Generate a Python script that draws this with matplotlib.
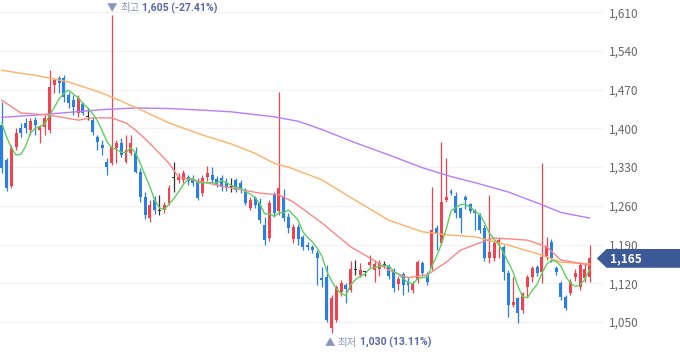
import numpy as np
import pandas as pd
import matplotlib
matplotlib.use("Agg")
import matplotlib.pyplot as plt
import matplotlib.transforms as mtransforms
from matplotlib.patches import Polygon
from matplotlib.offsetbox import TextArea, HPacker, AnnotationBbox

plt.rcParams['font.family'] = ['Noto Sans CJK KR', 'DejaVu Sans']

# daily candles (oldest first)
opens = [1406, 1343, 1296, 1366, 1400, 1409, 1397, 1415, 1398, 1402,
         1398, 1478, 1491, 1492, 1460, 1451, 1427, 1445, 1420, 1415,
         1384, 1370, 1339, 1337, 1364, 1373, 1339, 1355, 1355, 1321,
         1276, 1238, 1270, 1250, 1252, 1265, 1310, 1307, 1307, 1312,
         1310, 1303, 1283, 1312, 1316, 1309, 1310, 1301, 1294, 1307,
         1301, 1285, 1256, 1274, 1267, 1225, 1202, 1280, 1250, 1276,
         1240, 1200, 1222, 1204, 1190, 1186, 1175, 1130, 1131, 1040,
         1054, 1104, 1117, 1108, 1144, 1135, 1140, 1153, 1144, 1146,
         1153, 1151, 1144, 1119, 1137, 1124, 1108, 1126, 1157, 1135,
         1148, 1220, 1193, 1270, 1287, 1278, 1256, 1276, 1263, 1252,
         1243, 1220, 1166, 1166, 1193, 1186, 1139, 1081, 1094, 1072,
         1113, 1131, 1149, 1140, 1168, 1195, 1148, 1121, 1096, 1103,
         1131, 1113, 1130, 1131]
closes = [1328, 1292, 1364, 1391, 1391, 1400, 1413, 1406, 1404, 1418,
          1475, 1487, 1482, 1456, 1446, 1438, 1455, 1428, 1420, 1393,
          1375, 1364, 1330, 1366, 1373, 1352, 1361, 1373, 1321, 1276,
          1243, 1261, 1252, 1250, 1261, 1292, 1310, 1312, 1319, 1305,
          1301, 1274, 1310, 1319, 1307, 1298, 1294, 1292, 1294, 1289,
          1289, 1265, 1270, 1261, 1234, 1198, 1265, 1247, 1292, 1238,
          1220, 1222, 1200, 1186, 1186, 1180, 1166, 1126, 1054, 1094,
          1113, 1120, 1110, 1146, 1144, 1144, 1140, 1158, 1155, 1157,
          1153, 1133, 1112, 1128, 1117, 1117, 1120, 1158, 1139, 1122,
          1216, 1211, 1267, 1276, 1283, 1247, 1238, 1270, 1250, 1247,
          1216, 1166, 1177, 1193, 1198, 1140, 1081, 1087, 1067, 1103,
          1131, 1148, 1139, 1168, 1186, 1166, 1140, 1095, 1076, 1122,
          1139, 1153, 1146, 1165]
highs = [1448, 1346, 1370, 1400, 1409, 1418, 1418, 1420, 1406, 1424,
         1505, 1491, 1494, 1496, 1466, 1460, 1460, 1448, 1437, 1420,
         1388, 1379, 1346, 1605, 1379, 1382, 1388, 1388, 1366, 1328,
         1285, 1270, 1278, 1280, 1267, 1298, 1339, 1319, 1325, 1316,
         1316, 1310, 1316, 1332, 1330, 1314, 1316, 1310, 1310, 1310,
         1307, 1292, 1276, 1278, 1274, 1240, 1270, 1285, 1466, 1290,
         1247, 1227, 1227, 1207, 1195, 1190, 1180, 1149, 1153, 1099,
         1117, 1126, 1121, 1160, 1162, 1157, 1142, 1171, 1162, 1162,
         1160, 1155, 1148, 1133, 1140, 1131, 1124, 1162, 1160, 1140,
         1294, 1225, 1375, 1346, 1290, 1285, 1258, 1280, 1265, 1254,
         1247, 1225, 1280, 1198, 1202, 1189, 1144, 1131, 1096, 1105,
         1135, 1151, 1153, 1337, 1204, 1200, 1151, 1124, 1099, 1128,
         1145, 1158, 1157, 1189]
lows = [1320, 1287, 1292, 1361, 1384, 1391, 1388, 1388, 1374, 1388,
        1392, 1464, 1464, 1447, 1437, 1425, 1420, 1424, 1415, 1388,
        1361, 1352, 1316, 1334, 1337, 1348, 1337, 1352, 1319, 1267,
        1236, 1231, 1245, 1243, 1247, 1261, 1285, 1301, 1301, 1298,
        1296, 1270, 1278, 1305, 1301, 1294, 1287, 1287, 1285, 1285,
        1283, 1261, 1252, 1256, 1229, 1189, 1196, 1240, 1243, 1232,
        1211, 1193, 1190, 1180, 1180, 1175, 1117, 1113, 1050, 1030,
        1050, 1097, 1085, 1104, 1135, 1131, 1133, 1149, 1122, 1133,
        1148, 1128, 1104, 1108, 1099, 1105, 1103, 1121, 1133, 1117,
        1144, 1180, 1189, 1267, 1280, 1238, 1211, 1254, 1247, 1216,
        1211, 1160, 1157, 1160, 1166, 1126, 1059, 1078, 1048, 1067,
        1096, 1122, 1133, 1121, 1162, 1158, 1135, 1090, 1072, 1099,
        1124, 1108, 1122, 1122]

# moving averages (candle index, price)
ma5_head = [1410, 1385, 1365, 1352]
ma20_idx = [0, 4, 10, 16, 19, 23, 26, 28, 31, 35, 37, 40, 47, 54, 58, 61, 67,
            73, 77, 81, 85, 89, 93, 96, 100, 103, 110, 114, 117, 123]
ma20_val = [1451, 1428, 1424, 1415, 1419, 1419, 1410, 1397, 1373, 1337, 1312,
            1307, 1294, 1283, 1280, 1267, 1229, 1186, 1166, 1144, 1130, 1135,
            1158, 1180, 1193, 1202, 1198, 1186, 1162, 1153]
ma60_idx = [0, 7, 14, 21, 28, 35, 42, 48, 53, 57, 60, 67, 74, 81, 88, 94, 99,
            106, 113, 117, 123]
ma60_val = [1505, 1496, 1484, 1464, 1438, 1410, 1388, 1372, 1355, 1337, 1330,
            1307, 1270, 1234, 1213, 1207, 1204, 1189, 1171, 1158, 1155]
ma120_idx = [0, 7, 14, 21, 28, 35, 42, 48, 57, 62, 67, 74, 81, 88, 94, 99,
             106, 113, 117, 123]
ma120_val = [1420, 1424, 1429, 1434, 1437, 1436, 1433, 1430, 1421, 1413, 1398,
             1374, 1352, 1329, 1313, 1302, 1285, 1262, 1248, 1238]

yticks = [1050, 1120, 1190, 1260, 1330, 1400, 1470, 1540, 1610]

o = np.array(opens, dtype=float)
c = np.array(closes, dtype=float)
h = np.array(highs, dtype=float)
l = np.array(lows, dtype=float)
x = np.arange(len(c))

ma5 = pd.Series(c).rolling(5).mean().to_numpy()
ma5[:4] = ma5_head

RED = '#f0434f'
BLUE = '#2a7fe6'
DOJI = '#333333'
colors = np.where(c > o, RED, np.where(c < o, BLUE, DOJI))

fig = plt.figure(figsize=(6.8, 3.58), dpi=100)
ax = fig.add_axes([0, 0, 603 / 680, 1])

# candles
ax.vlines(x, l, h, colors=colors, linewidth=0.9, zorder=2)
bottom = np.minimum(o, c)
height = np.maximum(np.abs(c - o), 1.6)
ax.bar(x, height, bottom=bottom, width=0.62, color=colors, linewidth=0, zorder=3)

# moving averages
ax.plot(ma120_idx, ma120_val, color='#b77cff', lw=1.0, zorder=4)
ax.plot(ma60_idx, ma60_val, color='#ffb166', lw=1.0, zorder=4)
ax.plot(ma20_idx, ma20_val, color='#ff8585', lw=1.0, zorder=4)
ax.plot(x, ma5, color='#5fcf5f', lw=1.0, zorder=4)

ax.set_xlim(-0.36, 125.8)
ax.set_ylim(984.9, 1632.2)
ax.set_yticks(yticks)
ax.set_yticklabels([f'{v:,}' for v in yticks])
ax.yaxis.tick_right()
ax.tick_params(axis='y', length=0, pad=4.5, labelsize=8.5, labelcolor='#666666')
ax.set_xticks([])
ax.grid(axis='y', color='#f2f2f7', linewidth=1, zorder=0)
for s in ax.spines.values():
    s.set_visible(False)

# high / low markers
ih = int(np.argmax(h))
il = int(np.argmin(l))
lab = dict(color='#8796bd', fontsize=7.5)
num = dict(color='#5569a3', fontsize=7.6, fontweight='bold',
           family=['Roboto', 'DejaVu Sans'])
top = HPacker(children=[TextArea('▼', textprops=lab),
                        TextArea('최고', textprops=lab),
                        TextArea('1,605 (-27.41%)', textprops=num)],
              align='baseline', pad=0, sep=2)
ax.add_artist(AnnotationBbox(top, (ih, h[ih]), xybox=(-3.5, 5), xycoords='data',
                             boxcoords='offset points', box_alignment=(0, 0.5),
                             frameon=False, pad=0, annotation_clip=False))
bot = HPacker(children=[TextArea('▲', textprops=lab),
                        TextArea('최저', textprops=lab),
                        TextArea('1,030 (13.11%)', textprops=num)],
              align='baseline', pad=0, sep=2)
ax.add_artist(AnnotationBbox(bot, (il, l[il]), xybox=(-5, -7), xycoords='data',
                             boxcoords='offset points', box_alignment=(0, 0.5),
                             frameon=False, pad=0, annotation_clip=False))

# current price tag
last = c[-1]
trans = mtransforms.blended_transform_factory(ax.transAxes, ax.transData)
tag = Polygon([(0.9896, last), (1.006, last + 17), (1.13, last + 17),
               (1.13, last - 17), (1.006, last - 17)],
              closed=True, transform=trans, facecolor='#3d5a98',
              edgecolor='none', clip_on=False, zorder=6)
ax.add_patch(tag)
ax.text(1.0116, last, f'{int(last):,}', transform=trans, color='white',
        fontsize=8.5, fontweight='bold', va='center', ha='left', zorder=7)

fig.savefig('out.png', dpi=100)
